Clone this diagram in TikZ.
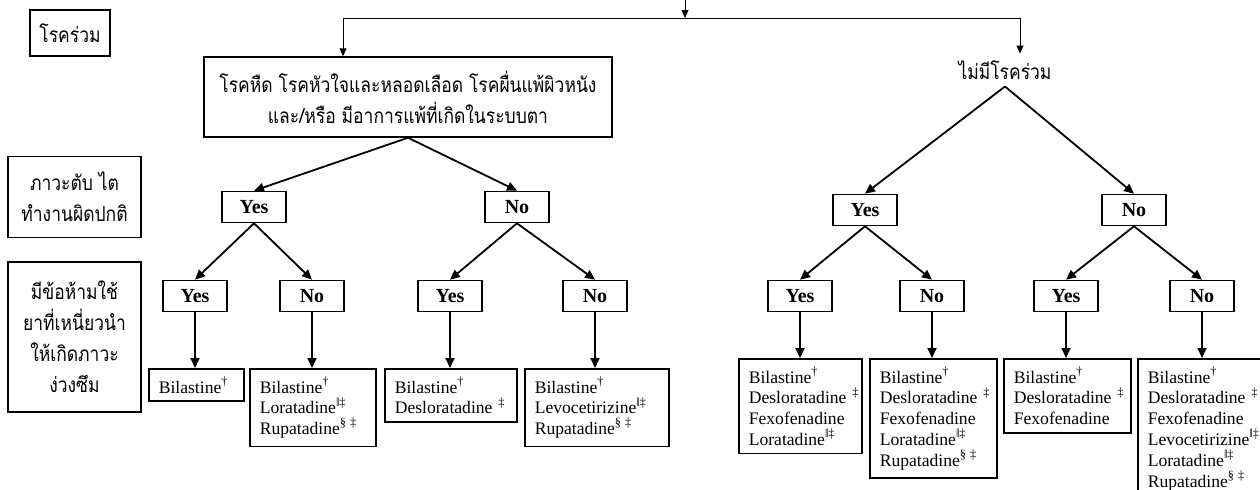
\documentclass[tikz,border=0pt]{standalone}
\usepackage{fontspec}
\setmainfont{Liberation Serif}
\newfontfamily\thaifont[Script=Thai, FakeStretch=0.84]{Loma}
\usetikzlibrary{arrows.meta}

\newcommand{\Bil}{\mbox{Bilastine\textsuperscript{†}}}
\newcommand{\Des}{\mbox{Desloratadine \textsuperscript{‡}}}
\newcommand{\Fex}{\mbox{Fexofenadine}}
\newcommand{\Lev}{\mbox{Levocetirizine\textsuperscript{‖‡}}}
\newcommand{\Lor}{\mbox{Loratadine\textsuperscript{‖‡}}}
\newcommand{\Rup}{\mbox{Rupatadine\textsuperscript{§}\,\textsuperscript{‡}}}

\begin{document}
\begin{tikzpicture}[x=0.5pt, y=-0.5pt,
    thai/.style={font=\thaifont\fontsize{10.4}{15.5}\selectfont, align=center},
    sidebox/.style={thai, draw, line width=0.75pt},
    yn/.style={draw, line width=0.8pt, font=\bfseries\fontsize{10}{12}\selectfont,
      minimum width=32pt, minimum height=15.5pt, inner sep=0pt},
    drug/.style={draw, line width=0.8pt, anchor=north west, align=left,
      font=\fontsize{8.8}{10.4}\selectfont, inner xsep=5pt, inner ysep=4pt, text width=#1},
    arr/.style={-{Triangle[length=5pt, width=4.5pt]}, line width=0.9pt},
    conn/.style={line width=0.5pt},
    tarr/.style={conn, -{Triangle[length=4pt, width=3.5pt]}}]
  \useasboundingbox (0,0) rectangle (1260,489);
  \clip (0,0) rectangle (1260,489);

  % side labels
  \node[sidebox, minimum width=40pt, minimum height=23pt] (como) at (70,33) {โรคร่วม};
  \node[sidebox, minimum width=66.5pt, minimum height=40.5pt] (organ) at (74.5,197) {ภาวะตับ ไต\\ทำงานผิดปกติ};
  \node[sidebox, minimum width=66.5pt, minimum height=75pt] (sedat) at (74.5,337) {มีข้อห้ามใช้\\ยาที่เหนี่ยวนำ\\ให้เกิดภาวะ\\ง่วงซึม};

  % top split
  \coordinate (top) at (685,0);
  \coordinate (split) at (685,18);
  \coordinate (hl) at (343,18);
  \coordinate (hr) at (1020,18);
  \node[sidebox, minimum width=204pt, minimum height=40pt] (withc) at (408,97)
    {โรคหืด โรคหัวใจและหลอดเลือด โรคผื่นแพ้ผิวหนัง\\และ/หรือ มีอาการแพ้ที่เกิดในระบบตา};
  \node[thai] (noc) at (1005,70) {ไม่มีโรคร่วม};

  % left tree
  \node[yn] (y1) at (254,207) {Yes};
  \node[yn] (n1) at (517,207) {No};
  \node[yn] (y1y) at (195,296) {Yes};
  \node[yn] (y1n) at (312,296) {No};
  \node[yn] (n1y) at (450,296) {Yes};
  \node[yn] (n1n) at (595,296) {No};
  % right tree
  \node[yn] (y2) at (865,210) {Yes};
  \node[yn] (n2) at (1134,210) {No};
  \node[yn] (y2y) at (800,296) {Yes};
  \node[yn] (y2n) at (932,296) {No};
  \node[yn] (n2y) at (1066,296) {Yes};
  \node[yn] (n2n) at (1202,296) {No};

  % drug lists
  \node[drug=37.5pt] (dA) at (148,368) {\Bil};
  \node[drug=53pt] (dB) at (249,368) {\Bil\\\Lor\\\Rup};
  \node[drug=56pt] (dC) at (384,368) {\Bil\\\Des};
  \node[drug=62pt] (dD) at (524,368) {\Bil\\\Lev\\\Rup};
  \node[drug=51.5pt] (dE) at (738,358) {\Bil\\\Des\\\Fex\\\Lor};
  \node[drug=53.5pt] (dF) at (869,358) {\Bil\\\Des\\\Fex\\\Lor\\\Rup};
  \node[drug=53.5pt] (dG) at (1003,358) {\Bil\\\Des\\\Fex};
  \node[drug=58pt] (dH) at (1137,358) {\Bil\\\Des\\\Fex\\\Lev\\\Lor\\\Rup};

  % connectors
  \draw[tarr] (top) -- (split);
  \draw[conn] (hl) -- (hr);
  \draw[tarr] (hl) -- (withc.north -| hl);
  \draw[tarr] (hr) -- (noc.north -| hr);
  \foreach \p/\c in {withc/y1, withc/n1, y1/y1y, y1/y1n, n1/n1y, n1/n1n,
      noc/y2, noc/n2, y2/y2y, y2/y2n, n2/n2y, n2/n2n}
    \draw[arr] (\p.south) -- (\c.north);
  \foreach \p/\c in {y1y/dA, y1n/dB, n1y/dC, n1n/dD, y2y/dE, y2n/dF, n2y/dG, n2n/dH}
    \draw[arr] (\p.south) -- (\p.south |- \c.north);
\end{tikzpicture}
\end{document}
